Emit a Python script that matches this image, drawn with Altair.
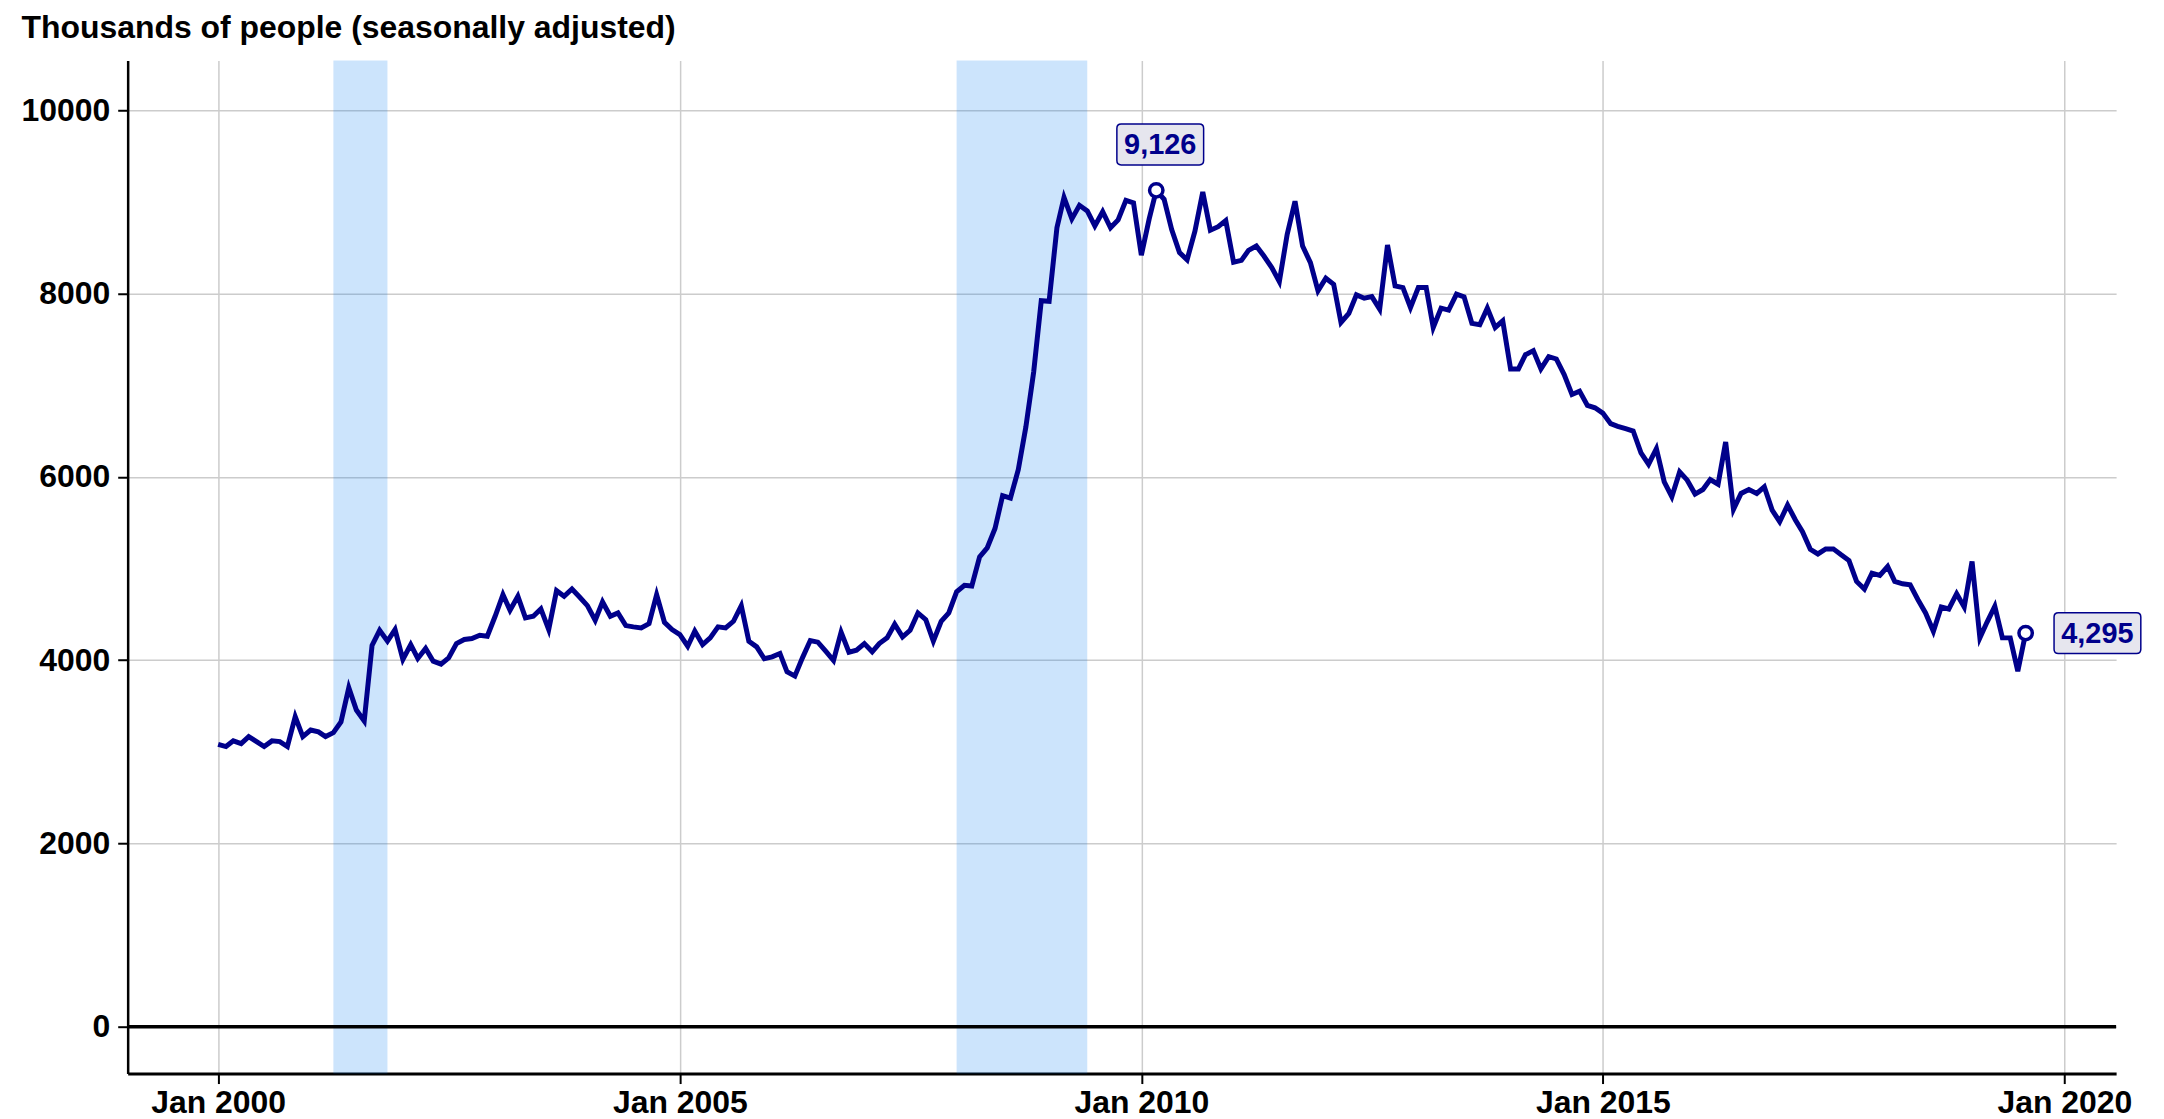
import altair as alt
import pandas as pd

# ---------------- data ----------------
months = pd.date_range("2000-01-01", periods=236, freq="MS").strftime("%Y-%m-%dT00:00:00").tolist()
values = [
    # 2000
    3082, 3057, 3119, 3090, 3166, 3111, 3057, 3119, 3111, 3057, 3384, 3166,
    # 2001
    3238, 3217, 3166, 3209, 3325, 3699, 3456, 3336, 4160, 4326, 4207, 4334,
    # 2002
    4007, 4170, 4018, 4127, 3989, 3956, 4025, 4181, 4225, 4236, 4272, 4261,
    # 2003
    4479, 4715, 4544, 4696, 4461, 4479, 4559, 4334, 4758, 4696, 4776, 4689,
    # 2004
    4595, 4435, 4635, 4479, 4515, 4377, 4363, 4352, 4399, 4715, 4413, 4334,
    # 2005
    4279, 4152, 4316, 4170, 4243, 4363, 4352, 4424, 4595, 4207, 4145, 4015,
    # 2006
    4036, 4073, 3873, 3826, 4025, 4214, 4196, 4098, 3996, 4305, 4087, 4109,
    # 2007
    4181, 4091, 4181, 4243, 4392, 4254, 4326, 4515, 4442, 4207, 4424, 4515,
    # 2008
    4746, 4816, 4808, 5127, 5224, 5437, 5794, 5767, 6078, 6544, 7146, 7922,
    # 2009
    7915, 8718, 9048, 8815, 8963, 8901, 8738, 8893, 8718, 8804, 9017, 8990,
    # 2010
    8419, 8815, 9126, 9029, 8699, 8447, 8369, 8680, 9107, 8691, 8730, 8796,
    # 2011
    8342, 8362, 8471, 8518, 8409, 8283, 8130, 8645, 9007, 8518, 8337, 8029,
    # 2012
    8167, 8101, 7685, 7783, 7986, 7949, 7967, 7830, 8529, 8083, 8065, 7848,
    # 2013
    8065, 8065, 7630, 7841, 7819, 7993, 7964, 7674, 7659, 7841, 7630, 7703,
    # 2014
    7178, 7178, 7333, 7377, 7178, 7312, 7286, 7116, 6899, 6935, 6779, 6754,
    # 2015
    6696, 6580, 6551, 6525, 6500, 6261, 6138, 6308, 5946, 5783, 6054, 5964,
    # 2016
    5812, 5862, 5971, 5920, 6380, 5645, 5819, 5862, 5819, 5891, 5638, 5511,
    # 2017
    5692, 5529, 5402, 5210, 5159, 5214, 5214, 5149, 5087, 4859, 4775, 4949,
    # 2018
    4924, 5022, 4859, 4833, 4822, 4659, 4515, 4315, 4580, 4558, 4725, 4580,
    # 2019
    5076, 4243, 4413, 4587, 4243, 4243, 3880, 4295,
]

rec_start = ["2001-04-01T00:00:00", "2008-01-01T00:00:00"]
rec_end = ["2001-11-01T00:00:00", "2009-06-01T00:00:00"]

y_ticks = [0, 2000, 4000, 6000, 8000, 10000]
x_tick_years = [2000, 2005, 2010, 2015, 2020]

peak_date = ["2010-03-01T00:00:00"]
peak_value = [9126]
last_date = ["2019-08-01T00:00:00"]
last_value = [4295]

title_text = "Thousands of people (seasonally adjusted)"

# ---------------- styling ----------------
NAVY = "#00008b"
FONT = "Liberation Sans"

df = pd.DataFrame({"date": months, "value": values})
rec_df = pd.DataFrame({"date": rec_start, "end": rec_end})
peak_df = pd.DataFrame({"date": peak_date, "value": peak_value})
last_df = pd.DataFrame({"date": last_date, "value": last_value})
zero_df = pd.DataFrame({"value": [0]})

xscale = alt.Scale(domain=[alt.DateTime(year=1999, month=1, date=8),
                           alt.DateTime(year=2020, month=7, date=24)], nice=False)
yscale = alt.Scale(domain=[-511, 10544], nice=False, zero=False)

x_axis = alt.Axis(
    values=[alt.DateTime(year=y, month=1, date=1) for y in x_tick_years],
    format="%b %Y", title=None,
    labelFont=FONT, labelFontSize=32, labelFontWeight="bold", labelColor="black",
    labelPadding=4, tickSize=10, tickWidth=2, tickColor="black",
    domainColor="black", domainWidth=3,
    gridColor="#cccccc", gridWidth=1.5,
)
y_axis = alt.Axis(
    values=y_ticks, format="d",
    title=title_text, titleAngle=0, titleAlign="left", titleBaseline="alphabetic",
    titleX=-107, titleY=-23, titleFont=FONT, titleFontSize=32,
    titleFontWeight="bold", titleColor="black",
    labelFont=FONT, labelFontSize=32, labelFontWeight="bold", labelColor="black",
    labelPadding=8, tickSize=10, tickWidth=2, tickColor="black",
    domainColor="black", domainWidth=2.5,
    gridColor="#cccccc", gridWidth=1.5,
)

X = alt.X("date:T", scale=xscale, axis=x_axis)
Y = alt.Y("value:Q", scale=yscale, axis=y_axis)

line = alt.Chart(df).mark_line(color=NAVY, strokeWidth=5).encode(x=X, y=Y)

recess = alt.Chart(rec_df).mark_rect(color="#0078f0", opacity=0.2).encode(
    x=X, x2="end:T",
)

zero = alt.Chart(zero_df).mark_rule(color="black", strokeWidth=3.5).encode(y=Y)

box_path = ("M -0.9 -0.471 L 0.9 -0.471 Q 1 -0.471 1 -0.371 L 1 0.371 "
            "Q 1 0.471 0.9 0.471 L -0.9 0.471 Q -1 0.471 -1 0.371 "
            "L -1 -0.371 Q -1 -0.471 -0.9 -0.471 Z")


def annotation(data, dx, dy):
    circle = alt.Chart(data).mark_point(
        shape="circle", size=180, fill="white", stroke=NAVY, strokeWidth=3.5,
        fillOpacity=1, strokeOpacity=1, opacity=1,
    ).encode(x=X, y=Y)
    box = alt.Chart(data).mark_point(
        shape=box_path, size=87 * 87, fill="#e6e6ee", stroke=NAVY, strokeWidth=1.5,
        fillOpacity=1, strokeOpacity=1, opacity=1, xOffset=dx, yOffset=dy,
    ).encode(x=X, y=Y)
    text = alt.Chart(data).mark_text(
        font=FONT, fontSize=29, fontWeight="bold", color=NAVY,
        align="center", baseline="middle", dx=dx, dy=dy + 1,
    ).encode(x=X, y=Y, text=alt.Text("value:Q", format=","))
    return [circle, box, text]


layers = [recess, zero, line] + annotation(peak_df, 4, -46) + annotation(last_df, 72, 0)

chart = alt.layer(*layers).properties(
    width=1994, height=1016,
    autosize=alt.AutoSizeParams(type="none"),
    padding={"left": 120, "top": 51, "right": 40, "bottom": 44},
).configure(background="white").configure_view(stroke=None)

chart.save("out.html", embed_options={"renderer": "svg", "actions": False})
